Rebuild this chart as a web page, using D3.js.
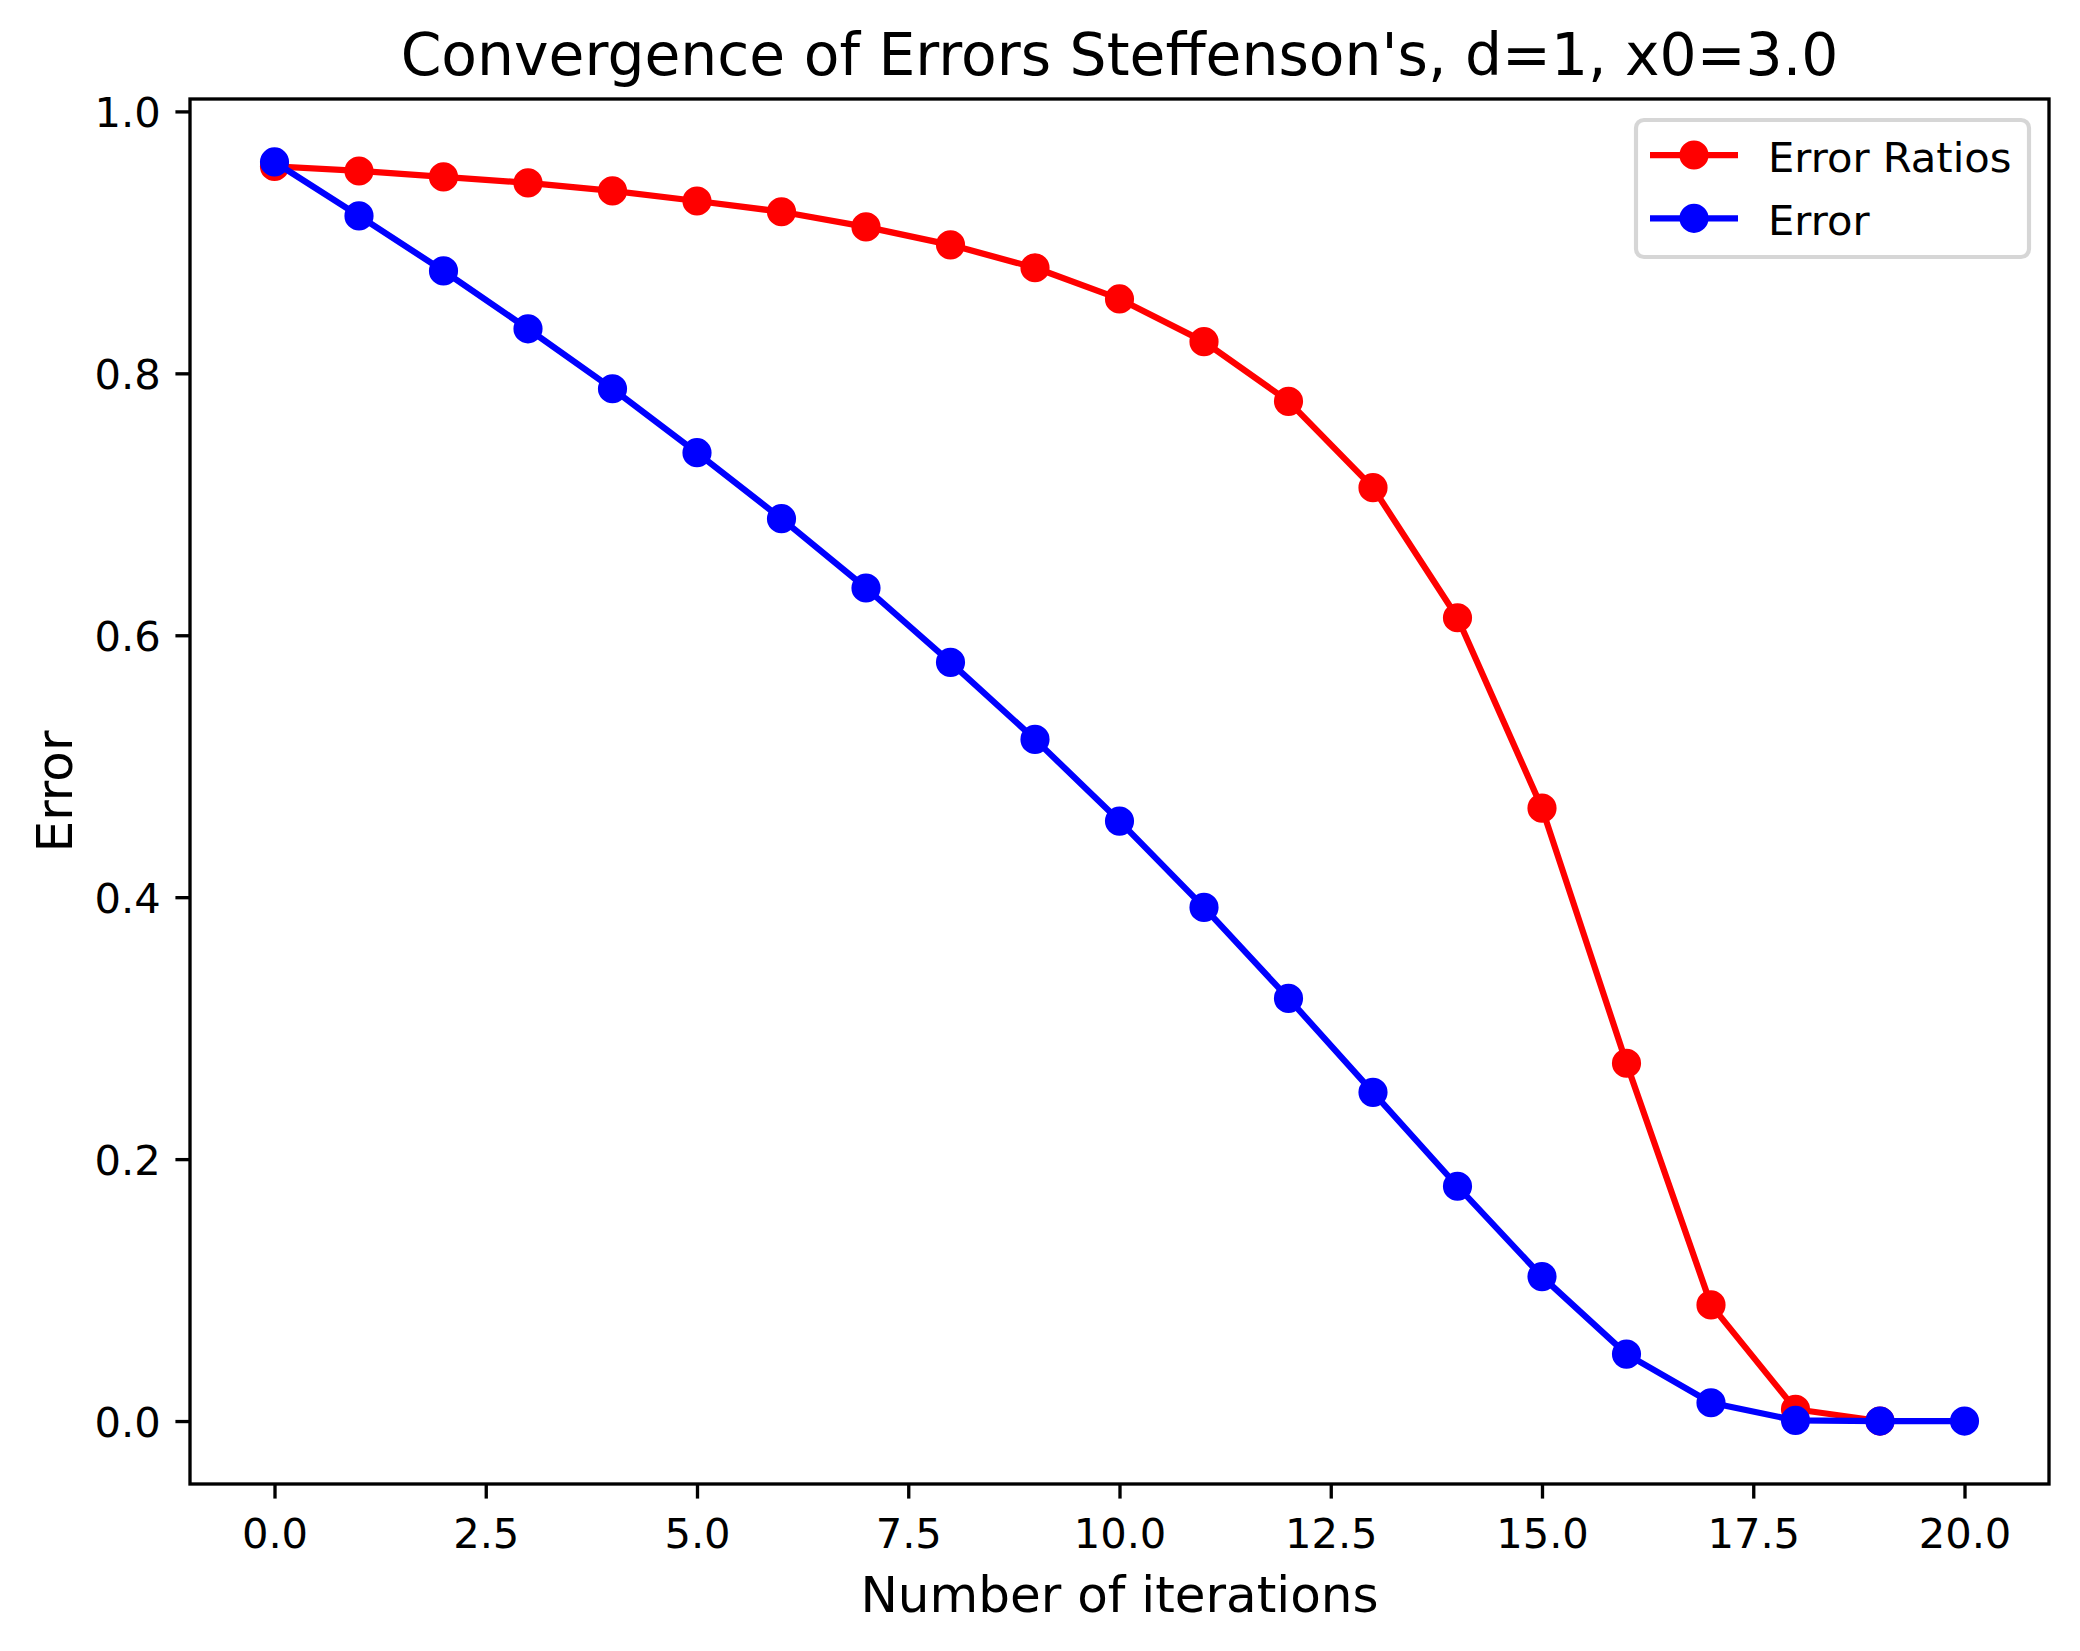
<!DOCTYPE html>
<html>
<head>
<meta charset="utf-8">
<script src="https://cdn.jsdelivr.net/npm/d3@7"></script>
<style>
  body { margin: 0; background: #fff; }
  svg { display: block; font-family: "DejaVu Sans", sans-serif; }
</style>
</head>
<body>
<svg id="chart" width="2080" height="1651"></svg>
<script>
// values
var iterations = d3.range(0, 21);
var errorRatios = [0.958, 0.9545, 0.950, 0.9454, 0.9393, 0.9316, 0.9234, 0.9118, 0.8981, 0.8806,
                   0.8568, 0.8242, 0.7786, 0.7127, 0.6134, 0.468, 0.2732, 0.0887, 0.0090, 0.0];
var errors = [0.9614, 0.9202, 0.8782, 0.834, 0.7882, 0.7394, 0.689, 0.6361, 0.5793, 0.5205,
              0.4581, 0.3922, 0.3227, 0.251, 0.1793, 0.1103, 0.0511, 0.014, 0.0005, 0.0, 0.0];
var xTicks = [0, 2.5, 5, 7.5, 10, 12.5, 15, 17.5, 20];
var yTicks = [0, 0.2, 0.4, 0.6, 0.8, 1.0];
var seriesNames = ['Error Ratios', 'Error'];
var seriesColors = ['red', 'blue'];

var svg = d3.select('#chart');
var plotLeft = 190, plotRight = 2049, plotTop = 99, plotBottom = 1484;
var pt = 300 / 72;   // figure was saved at 300 dpi

var x = d3.scaleLinear().domain([-1, 21]).range([plotLeft, plotRight]);
var ymax = d3.max(errors.concat(errorRatios));
var pad = ymax * 0.05;
var y = d3.scaleLinear().domain([-pad, ymax + pad]).range([plotBottom, plotTop]);

var series = [
  {name: seriesNames[0], color: seriesColors[0], values: errorRatios},
  {name: seriesNames[1], color: seriesColors[1], values: errors}
];

var line = d3.line()
    .x(function(d, i) { return x(iterations[i]); })
    .y(function(d) { return y(d); });

var plotG = svg.append('g');
series.forEach(function(s) {
  plotG.append('path')
      .attr('d', line(s.values))
      .attr('fill', 'none')
      .attr('stroke', s.color)
      .attr('stroke-width', 1.5 * pt)
      .attr('stroke-linejoin', 'round')
      .attr('stroke-linecap', 'square');
  plotG.selectAll(null)
      .data(s.values)
      .enter().append('circle')
      .attr('cx', function(d, i) { return x(iterations[i]); })
      .attr('cy', function(d) { return y(d); })
      .attr('r', 3 * pt)
      .attr('fill', s.color)
      .attr('stroke', s.color)
      .attr('stroke-width', 1 * pt);
});

// axes
var xAxis = d3.axisBottom(x).tickValues(xTicks).tickFormat(d3.format('.1f'))
    .tickSizeInner(3.5 * pt).tickSizeOuter(0).tickPadding(3.5 * pt);
var yAxis = d3.axisLeft(y).tickValues(yTicks).tickFormat(d3.format('.1f'))
    .tickSizeInner(3.5 * pt).tickSizeOuter(0).tickPadding(3.5 * pt);

var gx = svg.append('g').attr('transform', 'translate(0,' + plotBottom + ')').call(xAxis);
var gy = svg.append('g').attr('transform', 'translate(' + plotLeft + ',0)').call(yAxis);
[gx, gy].forEach(function(g) {
  g.select('.domain').remove();
  g.selectAll('.tick line').attr('stroke', '#000').attr('stroke-width', 0.8 * pt);
  g.selectAll('.tick text')
      .attr('fill', '#000')
      .style('font-family', '"DejaVu Sans", sans-serif')
      .style('font-size', (10 * pt) + 'px');
});
gx.selectAll('.tick text').attr('dy', null).attr('y', 64);
gy.selectAll('.tick text').attr('dy', '0.36em');

svg.append('rect')
    .attr('x', plotLeft).attr('y', plotTop)
    .attr('width', plotRight - plotLeft).attr('height', plotBottom - plotTop)
    .attr('fill', 'none')
    .attr('stroke', '#000')
    .attr('stroke-width', 0.8 * pt);

// titles
svg.append('text')
    .attr('x', (plotLeft + plotRight) / 2).attr('y', 75)
    .attr('text-anchor', 'middle')
    .style('font-size', (14 * pt) + 'px')
    .text("Convergence of Errors Steffenson's, d=1, x0=3.0");

svg.append('text')
    .attr('x', (plotLeft + plotRight) / 2).attr('y', 1612)
    .attr('text-anchor', 'middle')
    .style('font-size', (12 * pt) + 'px')
    .text('Number of iterations');

svg.append('text')
    .attr('transform', 'translate(72,' + ((plotTop + plotBottom) / 2) + ') rotate(-90)')
    .attr('text-anchor', 'middle')
    .style('font-size', (12 * pt) + 'px')
    .text('Error');

// legend
var legend = svg.append('g');
legend.append('rect')
    .attr('x', 1636).attr('y', 120)
    .attr('width', 393).attr('height', 137)
    .attr('rx', 8).attr('ry', 8)
    .attr('fill', 'rgba(255,255,255,0.8)')
    .attr('stroke', '#d6d6d6')
    .attr('stroke-width', 1 * pt);

var rows = legend.selectAll('.row')
    .data(series)
    .enter().append('g')
    .attr('class', 'row')
    .attr('transform', function(d, i) { return 'translate(0,' + (155 + i * 63.3) + ')'; });
rows.append('line')
    .attr('x1', 1650).attr('x2', 1738)
    .attr('stroke', function(d) { return d.color; })
    .attr('stroke-width', 1.5 * pt);
rows.append('circle')
    .attr('cx', 1694).attr('r', 3 * pt)
    .attr('fill', function(d) { return d.color; })
    .attr('stroke', function(d) { return d.color; })
    .attr('stroke-width', 1 * pt);
rows.append('text')
    .attr('x', 1768).attr('y', 16.5)
    .style('font-size', (10 * pt) + 'px')
    .text(function(d) { return d.name; });
</script>
</body>
</html>
